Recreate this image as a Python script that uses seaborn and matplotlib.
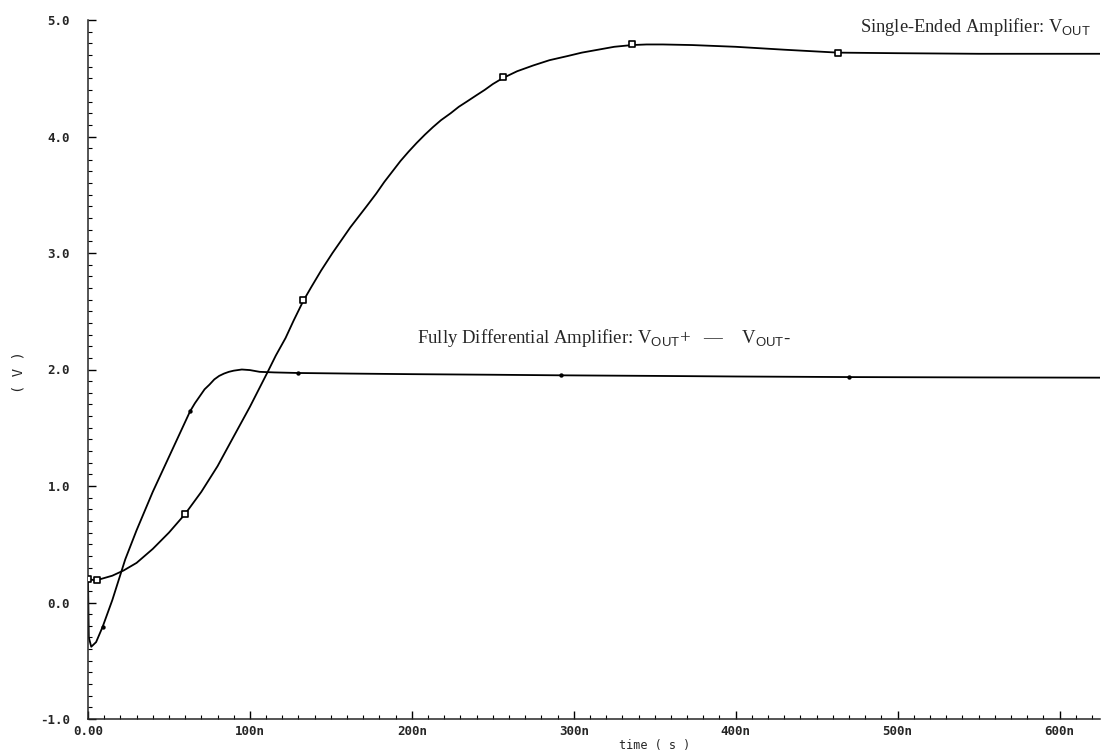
import numpy as np
import pandas as pd
import seaborn as sns
import matplotlib
matplotlib.use("Agg")
import matplotlib.pyplot as plt
from matplotlib.ticker import MultipleLocator, FixedLocator

# ---- data (time in ns, voltage in V) ----
single_t = [0, 5, 10, 15, 22, 30, 40, 50, 60, 70, 80, 89, 100, 111, 116, 122, 127,
            133, 138, 144, 151, 157, 162, 167, 172, 178, 183, 188, 193, 198, 203,
            208, 213, 218, 224, 229, 234, 240, 245, 250, 256, 265, 275, 285, 296,
            305, 315, 325, 336, 345, 355, 373, 400, 430, 463, 500, 550, 625]
single_v = [0.20, 0.19, 0.21, 0.23, 0.275, 0.34, 0.46, 0.60, 0.76, 0.95, 1.17, 1.40,
            1.68, 1.98, 2.12, 2.27, 2.42, 2.59, 2.71, 2.85, 3.00, 3.12, 3.22, 3.31,
            3.40, 3.51, 3.61, 3.70, 3.79, 3.87, 3.945, 4.015, 4.08, 4.14, 4.20, 4.255,
            4.30, 4.355, 4.40, 4.45, 4.50, 4.56, 4.61, 4.655, 4.69, 4.72, 4.745, 4.77,
            4.785, 4.79, 4.79, 4.785, 4.77, 4.745, 4.72, 4.715, 4.71, 4.71]

fd_t = [0, 0.5, 2, 5, 9, 15, 23, 30, 40, 50, 55, 63, 66, 69, 72, 75, 78, 81, 84,
        87, 90, 95, 100, 106, 115, 130, 162, 200, 250, 292, 350, 400, 470, 550, 625]
fd_v = [0.20, -0.30, -0.38, -0.34, -0.21, 0.02, 0.37, 0.62, 0.95, 1.25, 1.40, 1.64,
        1.71, 1.77, 1.83, 1.87, 1.915, 1.945, 1.965, 1.98, 1.99, 2.00, 1.995, 1.98,
        1.975, 1.97, 1.965, 1.96, 1.955, 1.95, 1.945, 1.94, 1.935, 1.932, 1.93]

single_mark_t = [0, 5.5, 60, 133, 256, 336, 463]
single_mark_v = [0.20, 0.19, 0.76, 2.60, 4.51, 4.79, 4.72]
fd_mark_t = [9, 63, 130, 292, 470]
fd_mark_v = [-0.21, 1.64, 1.97, 1.95, 1.935]

x_ticks = [0, 100, 200, 300, 400, 500, 600]
x_tick_labels = ["0.00", "100n", "200n", "300n", "400n", "500n", "600n"]
y_ticks = [-1.0, 0.0, 1.0, 2.0, 3.0, 4.0, 5.0]
y_tick_labels = ["-1.0", "0.0", "1.0", "2.0", "3.0", "4.0", "5.0"]

label_single = r"Single-Ended Amplifier: V$_{\mathsf{OUT}}$"
label_fd = r"Fully Differential Amplifier: V$_{\mathsf{OUT}}$+   —    V$_{\mathsf{OUT}}$-"

# ---- style ----
sns.set_style("ticks")
plt.rcParams["font.family"] = ["DejaVu Sans"]
plt.rcParams["mathtext.fontset"] = "custom"
plt.rcParams["mathtext.rm"] = "Liberation Serif"
plt.rcParams["mathtext.sf"] = "Liberation Sans"

fig = plt.figure(figsize=(11.06, 7.55), dpi=100)
ax = fig.add_axes([88 / 1106, 1 - 719 / 755, (1100 - 88) / 1106, (719 - 20) / 755])

df_s = pd.DataFrame({"t": single_t, "v": single_v})
df_f = pd.DataFrame({"t": fd_t, "v": fd_v})
sns.lineplot(data=df_s, x="t", y="v", ax=ax, color="black", lw=1.3,
             sort=False, estimator=None)
sns.lineplot(data=df_f, x="t", y="v", ax=ax, color="black", lw=1.3,
             sort=False, estimator=None)
sns.scatterplot(x=single_mark_t, y=single_mark_v, ax=ax, marker="s", s=14,
                facecolor="white", edgecolor="black", linewidth=1.2, zorder=5)
sns.scatterplot(x=fd_mark_t, y=fd_mark_v, ax=ax, marker="o", s=10,
                color="black", linewidth=0, zorder=5)

ax.set_xlim(0, 625)
ax.set_ylim(-1.0, 5.0)
sns.despine(ax=ax)
for sp in ("left", "bottom"):
    ax.spines[sp].set_linewidth(1.1)

ax.xaxis.set_major_locator(FixedLocator(x_ticks))
ax.yaxis.set_major_locator(FixedLocator(y_ticks))
ax.xaxis.set_minor_locator(MultipleLocator(10))
ax.yaxis.set_minor_locator(MultipleLocator(0.1))
ax.set_xticklabels(x_tick_labels, family="DejaVu Sans Mono", fontweight="bold", fontsize=9)
ax.set_yticklabels(y_tick_labels, family="DejaVu Sans Mono", fontweight="bold", fontsize=9)
ax.tick_params(axis="both", which="major", direction="in", length=6, width=1, color="black")
ax.tick_params(axis="both", which="minor", direction="in", length=3, width=0.8, color="black")
ax.tick_params(axis="x", which="major", pad=4)
ax.tick_params(axis="y", which="major", pad=13)

ax.set_xlabel("time ( s )", family="DejaVu Sans Mono", fontsize=8.5)
ax.set_ylabel("( V )", family="DejaVu Sans Mono", fontsize=10)
ax.xaxis.set_label_coords((655 - 88) / 1012, -20 / 699)
ax.yaxis.set_label_coords((25 - 88) / 1012, (719 - 372) / 699)

ax.text(477, 4.94, label_single, family="Liberation Serif", fontsize=13.3,
        ha="left", va="center")
ax.text(203, 2.27, label_fd, family="Liberation Serif", fontsize=13.5,
        ha="left", va="center")

fig.savefig("out.png", dpi=100, facecolor="white")
